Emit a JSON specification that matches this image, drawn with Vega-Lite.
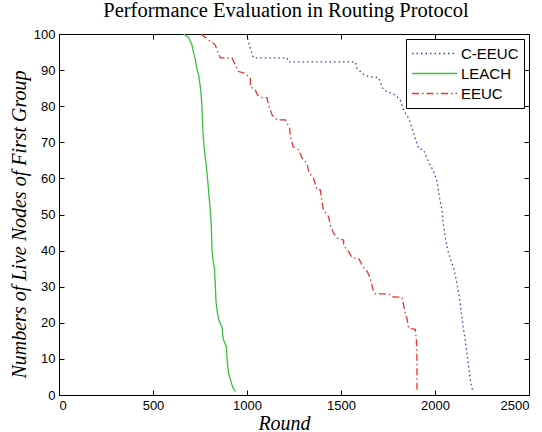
{
  "$schema": "https://vega.github.io/schema/vega-lite/v6.json",
  "width": 470,
  "height": 361,
  "autosize": "none",
  "padding": {"left": 59, "top": 34, "right": 13, "bottom": 37},
  "background": "white",
  "title": {"text": "Performance Evaluation in Routing Protocol", "font": "Liberation Serif", "fontSize": 20.5, "fontWeight": "normal", "color": "black", "offset": 7, "anchor": "middle", "dx": -8},
  "config": {
    "view": {"stroke": "black", "strokeWidth": 1},
    "axis": {"grid": false, "domainColor": "black", "tickColor": "black", "tickSize": -5, "labelPadding": 9, "labelFont": "Liberation Sans", "labelFontSize": 13, "labelColor": "black", "titleFont": "Liberation Serif", "titleFontSize": 20, "titleFontStyle": "italic", "titleFontWeight": "normal", "titleColor": "black"},
    "legend": {"orient": "top-right", "offset": 5, "strokeColor": "black", "fillColor": "white", "padding": 5, "labelFont": "Liberation Sans", "labelFontSize": 15, "labelColor": "black", "labelOffset": 3, "symbolType": "stroke", "symbolSize": 2025, "symbolStrokeWidth": 1.3, "clipHeight": 19, "rowPadding": 1}
  },
  "data": {"values": [
    {"series":"C-EEUC","i":0,"round":1000,"nodes":100},
    {"series":"C-EEUC","i":1,"round":1003,"nodes":98.8},
    {"series":"C-EEUC","i":2,"round":1018,"nodes":96},
    {"series":"C-EEUC","i":3,"round":1035,"nodes":93.4},
    {"series":"C-EEUC","i":4,"round":1213,"nodes":93.4},
    {"series":"C-EEUC","i":5,"round":1221,"nodes":92.3},
    {"series":"C-EEUC","i":6,"round":1576,"nodes":92.3},
    {"series":"C-EEUC","i":7,"round":1585,"nodes":90.5},
    {"series":"C-EEUC","i":8,"round":1620,"nodes":88.8},
    {"series":"C-EEUC","i":9,"round":1647,"nodes":88.2},
    {"series":"C-EEUC","i":10,"round":1700,"nodes":87.9},
    {"series":"C-EEUC","i":11,"round":1718,"nodes":85.4},
    {"series":"C-EEUC","i":12,"round":1727,"nodes":84.5},
    {"series":"C-EEUC","i":13,"round":1789,"nodes":83.1},
    {"series":"C-EEUC","i":14,"round":1815,"nodes":81.7},
    {"series":"C-EEUC","i":15,"round":1833,"nodes":78.9},
    {"series":"C-EEUC","i":16,"round":1860,"nodes":76.6},
    {"series":"C-EEUC","i":17,"round":1878,"nodes":73.9},
    {"series":"C-EEUC","i":18,"round":1895,"nodes":71.1},
    {"series":"C-EEUC","i":19,"round":1913,"nodes":68.3},
    {"series":"C-EEUC","i":20,"round":1939,"nodes":67.9},
    {"series":"C-EEUC","i":21,"round":1957,"nodes":65.6},
    {"series":"C-EEUC","i":22,"round":1975,"nodes":63.7},
    {"series":"C-EEUC","i":23,"round":1993,"nodes":61.9},
    {"series":"C-EEUC","i":24,"round":2011,"nodes":59.1},
    {"series":"C-EEUC","i":25,"round":2019,"nodes":56.3},
    {"series":"C-EEUC","i":26,"round":2028,"nodes":53.5},
    {"series":"C-EEUC","i":27,"round":2037,"nodes":51.2},
    {"series":"C-EEUC","i":28,"round":2042,"nodes":48.5},
    {"series":"C-EEUC","i":29,"round":2051,"nodes":44.8},
    {"series":"C-EEUC","i":30,"round":2064,"nodes":41.1},
    {"series":"C-EEUC","i":31,"round":2072,"nodes":39.3},
    {"series":"C-EEUC","i":32,"round":2090,"nodes":36.5},
    {"series":"C-EEUC","i":33,"round":2102,"nodes":34.6},
    {"series":"C-EEUC","i":34,"round":2113,"nodes":31.9},
    {"series":"C-EEUC","i":35,"round":2126,"nodes":28.2},
    {"series":"C-EEUC","i":36,"round":2134,"nodes":25.4},
    {"series":"C-EEUC","i":37,"round":2143,"nodes":21.7},
    {"series":"C-EEUC","i":38,"round":2152,"nodes":18},
    {"series":"C-EEUC","i":39,"round":2161,"nodes":15.2},
    {"series":"C-EEUC","i":40,"round":2170,"nodes":11.5},
    {"series":"C-EEUC","i":41,"round":2179,"nodes":7.8},
    {"series":"C-EEUC","i":42,"round":2188,"nodes":4.2},
    {"series":"C-EEUC","i":43,"round":2200,"nodes":1.2},
    {"series":"LEACH","i":0,"round":663,"nodes":100},
    {"series":"LEACH","i":1,"round":690,"nodes":99},
    {"series":"LEACH","i":2,"round":707,"nodes":97},
    {"series":"LEACH","i":3,"round":715,"nodes":95},
    {"series":"LEACH","i":4,"round":725,"nodes":93},
    {"series":"LEACH","i":5,"round":735,"nodes":90},
    {"series":"LEACH","i":6,"round":743,"nodes":88.6},
    {"series":"LEACH","i":7,"round":755,"nodes":84},
    {"series":"LEACH","i":8,"round":760,"nodes":80},
    {"series":"LEACH","i":9,"round":764,"nodes":75},
    {"series":"LEACH","i":10,"round":768,"nodes":71},
    {"series":"LEACH","i":11,"round":773,"nodes":68},
    {"series":"LEACH","i":12,"round":778,"nodes":66},
    {"series":"LEACH","i":13,"round":783,"nodes":63.7},
    {"series":"LEACH","i":14,"round":790,"nodes":60},
    {"series":"LEACH","i":15,"round":796,"nodes":56.3},
    {"series":"LEACH","i":16,"round":805,"nodes":51},
    {"series":"LEACH","i":17,"round":810,"nodes":47},
    {"series":"LEACH","i":18,"round":814,"nodes":40},
    {"series":"LEACH","i":19,"round":820,"nodes":37},
    {"series":"LEACH","i":20,"round":826,"nodes":35.5},
    {"series":"LEACH","i":21,"round":831,"nodes":31},
    {"series":"LEACH","i":22,"round":835,"nodes":26},
    {"series":"LEACH","i":23,"round":842,"nodes":23},
    {"series":"LEACH","i":24,"round":849,"nodes":21},
    {"series":"LEACH","i":25,"round":860,"nodes":19.5},
    {"series":"LEACH","i":26,"round":867,"nodes":18.9},
    {"series":"LEACH","i":27,"round":872,"nodes":16},
    {"series":"LEACH","i":28,"round":876,"nodes":15.2},
    {"series":"LEACH","i":29,"round":890,"nodes":13.4},
    {"series":"LEACH","i":30,"round":894,"nodes":9.7},
    {"series":"LEACH","i":31,"round":902,"nodes":6},
    {"series":"LEACH","i":32,"round":915,"nodes":3.7},
    {"series":"LEACH","i":33,"round":925,"nodes":2},
    {"series":"LEACH","i":34,"round":932,"nodes":1.4},
    {"series":"LEACH","i":35,"round":940,"nodes":1},
    {"series":"EEUC","i":0,"round":755,"nodes":100},
    {"series":"EEUC","i":1,"round":780,"nodes":99},
    {"series":"EEUC","i":2,"round":796,"nodes":98.3},
    {"series":"EEUC","i":3,"round":831,"nodes":97},
    {"series":"EEUC","i":4,"round":840,"nodes":95.6},
    {"series":"EEUC","i":5,"round":858,"nodes":93.4},
    {"series":"EEUC","i":6,"round":920,"nodes":93.4},
    {"series":"EEUC","i":7,"round":938,"nodes":91.4},
    {"series":"EEUC","i":8,"round":955,"nodes":89.6},
    {"series":"EEUC","i":9,"round":991,"nodes":89.1},
    {"series":"EEUC","i":10,"round":1018,"nodes":87.7},
    {"series":"EEUC","i":11,"round":1018,"nodes":85.4},
    {"series":"EEUC","i":12,"round":1044,"nodes":84.5},
    {"series":"EEUC","i":13,"round":1056,"nodes":83.1},
    {"series":"EEUC","i":14,"round":1080,"nodes":82.4},
    {"series":"EEUC","i":15,"round":1106,"nodes":82.4},
    {"series":"EEUC","i":16,"round":1115,"nodes":80.3},
    {"series":"EEUC","i":17,"round":1133,"nodes":77.6},
    {"series":"EEUC","i":18,"round":1160,"nodes":76.2},
    {"series":"EEUC","i":19,"round":1204,"nodes":76.2},
    {"series":"EEUC","i":20,"round":1227,"nodes":73.9},
    {"series":"EEUC","i":21,"round":1230,"nodes":72},
    {"series":"EEUC","i":22,"round":1245,"nodes":68.8},
    {"series":"EEUC","i":23,"round":1275,"nodes":67.9},
    {"series":"EEUC","i":24,"round":1293,"nodes":65.6},
    {"series":"EEUC","i":25,"round":1319,"nodes":64.2},
    {"series":"EEUC","i":26,"round":1328,"nodes":61.9},
    {"series":"EEUC","i":27,"round":1354,"nodes":60},
    {"series":"EEUC","i":28,"round":1372,"nodes":56.8},
    {"series":"EEUC","i":29,"round":1390,"nodes":56.8},
    {"series":"EEUC","i":30,"round":1399,"nodes":53.5},
    {"series":"EEUC","i":31,"round":1407,"nodes":51.2},
    {"series":"EEUC","i":32,"round":1434,"nodes":49.4},
    {"series":"EEUC","i":33,"round":1443,"nodes":47},
    {"series":"EEUC","i":34,"round":1461,"nodes":44.8},
    {"series":"EEUC","i":35,"round":1479,"nodes":43.5},
    {"series":"EEUC","i":36,"round":1514,"nodes":42.9},
    {"series":"EEUC","i":37,"round":1514,"nodes":41.5},
    {"series":"EEUC","i":38,"round":1540,"nodes":39.7},
    {"series":"EEUC","i":39,"round":1559,"nodes":38.1},
    {"series":"EEUC","i":40,"round":1594,"nodes":37.8},
    {"series":"EEUC","i":41,"round":1620,"nodes":35.3},
    {"series":"EEUC","i":42,"round":1640,"nodes":34.2},
    {"series":"EEUC","i":43,"round":1656,"nodes":32.3},
    {"series":"EEUC","i":44,"round":1670,"nodes":29.3},
    {"series":"EEUC","i":45,"round":1682,"nodes":28},
    {"series":"EEUC","i":46,"round":1753,"nodes":28},
    {"series":"EEUC","i":47,"round":1771,"nodes":27.2},
    {"series":"EEUC","i":48,"round":1824,"nodes":27.1},
    {"series":"EEUC","i":49,"round":1833,"nodes":24.9},
    {"series":"EEUC","i":50,"round":1842,"nodes":22.6},
    {"series":"EEUC","i":51,"round":1851,"nodes":21.2},
    {"series":"EEUC","i":52,"round":1860,"nodes":18.5},
    {"series":"EEUC","i":53,"round":1895,"nodes":18.2},
    {"series":"EEUC","i":54,"round":1901,"nodes":15.2},
    {"series":"EEUC","i":55,"round":1904,"nodes":10},
    {"series":"EEUC","i":56,"round":1904,"nodes":1}
  ]},
  "layer": [
    {
      "mark": {"type": "line", "strokeWidth": 1.3},
      "encoding": {
        "x": {"field": "round", "type": "quantitative", "scale": {"domain": [0, 2500], "nice": false}, "axis": {"orient": "bottom", "values": [0,500,1000,1500,2000,2500], "format": "d", "title": "Round", "titlePadding": 1, "titleX": 225}},
        "y": {"field": "nodes", "type": "quantitative", "scale": {"domain": [0, 100], "nice": false}, "axis": {"orient": "left", "values": [0,10,20,30,40,50,60,70,80,90,100], "format": "d", "title": "Numbers of Live Nodes of First Group", "titlePadding": 4, "titleY": 190}},
        "order": {"field": "i", "type": "quantitative"},
        "color": {"field": "series", "type": "nominal", "scale": {"domain": ["C-EEUC", "LEACH", "EEUC"], "range": ["#3c3cc8", "#3dbf3d", "#e53333"]}, "legend": {"title": null}},
        "strokeDash": {"field": "series", "type": "nominal", "scale": {"domain": ["C-EEUC", "LEACH", "EEUC"], "range": [[1.5, 3], [1, 0], [7, 3, 1.5, 3]]}, "legend": {"title": null}}
      }
    },
    {
      "mark": {"type": "line", "opacity": 0},
      "encoding": {
        "x": {"field": "round", "type": "quantitative", "axis": {"orient": "top", "values": [0,500,1000,1500,2000,2500], "labels": false, "title": null, "domain": false}},
        "y": {"field": "nodes", "type": "quantitative", "axis": {"orient": "right", "values": [0,10,20,30,40,50,60,70,80,90,100], "labels": false, "title": null, "domain": false}},
        "detail": {"field": "series"},
        "order": {"field": "i", "type": "quantitative"}
      }
    }
  ],
  "resolve": {"axis": {"x": "independent", "y": "independent"}}
}
